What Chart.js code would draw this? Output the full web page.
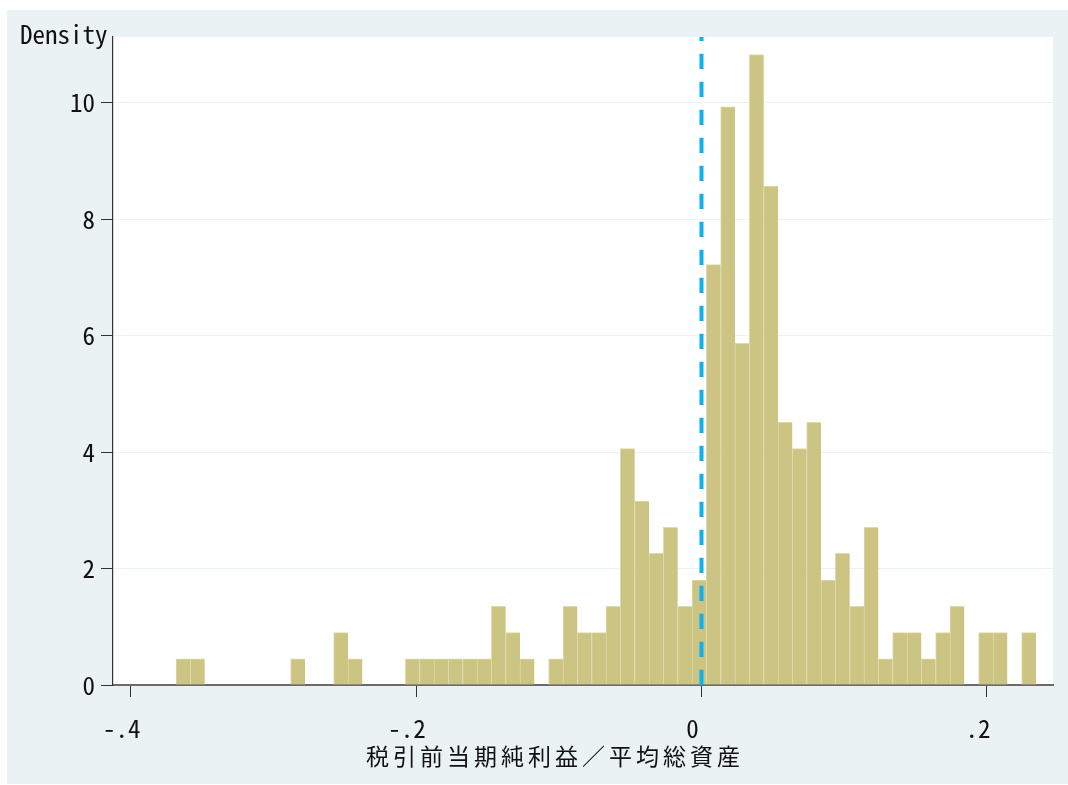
<!DOCTYPE html>
<html>
<head>
<meta charset="utf-8">
<script src="https://cdn.jsdelivr.net/npm/chart.js@4/dist/chart.umd.min.js"></script>
<style>
  html, body { margin: 0; padding: 0; background: #ffffff; }
  #wrap { width: 1068px; height: 785px; }
</style>
</head>
<body>
<div id="wrap"><canvas id="c" width="1068" height="785"></canvas></div>
<script>
// ---- data ----
const binStart = -0.3682;      // left edge of first bin
const binWidth = 0.010043;     // width of each bin
const density = [
  0.45, 0.45, 0, 0, 0, 0, 0, 0, 0.45, 0,
  0, 0.90, 0.45, 0, 0, 0, 0.45, 0.45, 0.45, 0.45,
  0.45, 0.45, 1.35, 0.90, 0.45, 0, 0.45, 1.35, 0.90, 0.90,
  1.35, 4.06, 3.16, 2.26, 2.71, 1.35, 1.80, 7.22, 9.93, 5.87,
  10.83, 8.57, 4.51, 4.06, 4.51, 1.80, 2.26, 1.35, 2.71, 0.45,
  0.90, 0.90, 0.45, 0.90, 1.35, 0, 0.90, 0.90, 0, 0.90
];
const xTickValues = [-0.4, -0.2, 0, 0.2];
const xTickLabels = ["-.4", "-.2", "0", ".2"];
const yTickValues = [0, 2, 4, 6, 8, 10];
const yTickLabels = ["0", "2", "4", "6", "8", "10"];
const refLineX = 0;
const xTitle = "税引前当期純利益／平均総資産";
const yTitle = "Density";
const xMin = -0.41235, xMax = 0.2463, yMin = 0, yMax = 11.13;

// ---- build library data ----
const barPoints = density.map((d, i) => ({ x: binStart + (i + 0.5) * binWidth, y: d }));
const linePoints = [{ x: refLineX, y: yMin }, { x: refLineX, y: yMax }];

const BG = 'rgb(234,242,243)';
const monoFont = '"Noto Sans Mono CJK JP", "DejaVu Sans Mono", monospace';

const decor = {
  id: 'decor',
  beforeDraw(chart) {
    const ctx = chart.ctx, a = chart.chartArea;
    ctx.save();
    ctx.fillStyle = '#ffffff';
    ctx.fillRect(0, 0, chart.width, chart.height);
    ctx.fillStyle = BG;
    ctx.fillRect(7, 10, chart.width - 7, 774);
    ctx.fillStyle = '#ffffff';
    ctx.fillRect(a.left, a.top, a.right - a.left, a.bottom - a.top);
    ctx.restore();
  },
  afterDraw(chart) {
    const ctx = chart.ctx, a = chart.chartArea;
    ctx.save();
    ctx.fillStyle = '#111';
    ctx.font = '25px ' + monoFont;
    ctx.textAlign = 'left';
    ctx.textBaseline = 'alphabetic';
    ctx.fillText(yTitle, 20, 44);
    ctx.font = '23px "Noto Sans CJK JP", "Noto Sans CJK SC", sans-serif';
    const ls = 4;
    try { ctx.letterSpacing = ls + 'px'; } catch (e) {}
    const w = ctx.measureText(xTitle).width - ls;
    const cx = (a.left + a.right) / 2 - 30;
    ctx.fillText(xTitle, cx - w / 2, 765);
    ctx.restore();
  }
};

new Chart(document.getElementById('c'), {
  type: 'bar',
  data: {
    datasets: [
      {
        type: 'line',
        data: linePoints,
        borderColor: 'rgb(14,176,238)',
        borderWidth: 4,
        borderDash: [15.3, 12.7],
        pointRadius: 0,
        fill: false,
        order: 0
      },
      {
        type: 'bar',
        data: barPoints,
        backgroundColor: 'rgb(203,196,131)',
        borderColor: 'rgb(222,218,172)',
        borderWidth: { top: 1, left: 1, right: 0, bottom: 0 },
        borderSkipped: false,
        barPercentage: 1,
        categoryPercentage: 1,
        order: 1
      }
    ]
  },
  options: {
    responsive: false,
    animation: false,
    devicePixelRatio: 1,
    layout: { padding: { top: 37, right: 15, left: 0, bottom: 0 } },
    plugins: { legend: { display: false }, tooltip: { enabled: false }, title: { display: false } },
    scales: {
      x: {
        type: 'linear',
        min: xMin, max: xMax,
        offset: false,
        z: 1,
        afterBuildTicks: s => { s.ticks = xTickValues.map(v => ({ value: v })); },
        afterFit: s => { s.height = 100; s.paddingLeft = 0; s.paddingRight = 0; },
        ticks: {
          autoSkip: false,
          maxRotation: 0,
          padding: 16,
          labelOffset: -9,
          color: '#111',
          font: { family: monoFont, size: 25 },
          callback: (v) => { const i = xTickValues.indexOf(v); return i >= 0 ? xTickLabels[i] : ''; }
        },
        grid: {
          offset: false,
          drawOnChartArea: false,
          drawTicks: true,
          tickLength: 12,
          tickColor: '#333',
          tickWidth: 1
        },
        border: { display: true, color: '#6b6b6b', width: 2 }
      },
      y: {
        type: 'linear',
        min: yMin, max: yMax,
        afterBuildTicks: s => { s.ticks = yTickValues.map(v => ({ value: v })); },
        afterFit: s => { s.width = 113; s.paddingTop = 0; s.paddingBottom = 0; },
        ticks: {
          autoSkip: false,
          padding: 6,
          color: '#111',
          font: { family: monoFont, size: 25 },
          callback: (v) => { const i = yTickValues.indexOf(v); return i >= 0 ? yTickLabels[i] : ''; }
        },
        grid: {
          color: c => (c.tick && c.tick.value === 0) ? 'rgba(0,0,0,0)' : BG,
          lineWidth: 1,
          drawTicks: true,
          tickLength: 12,
          tickColor: '#333',
          tickWidth: 1
        },
        border: { display: true, color: '#333', width: 1.2 }
      }
    }
  },
  plugins: [decor]
});
</script>
</body>
</html>
